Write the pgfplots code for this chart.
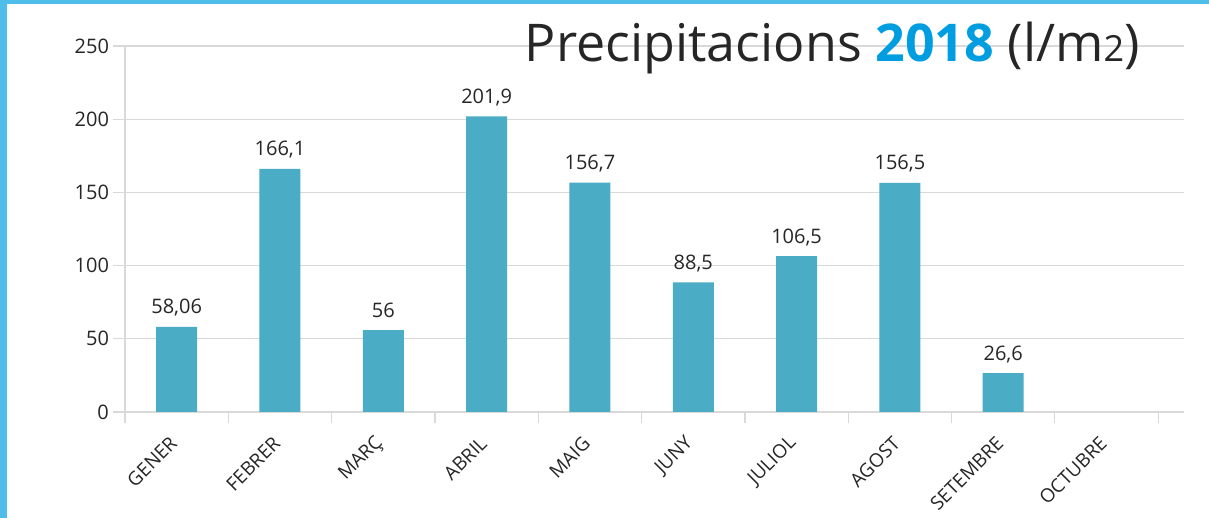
\documentclass[border=0pt]{standalone}
\usepackage{fontspec}
\setmainfont{Open Sans}
\usepackage{pgfplots}
\pgfplotsset{compat=1.18}
\definecolor{barc}{HTML}{4BACC6}
\definecolor{framec}{HTML}{4FBDE9}
\definecolor{yearc}{RGB}{0,158,224}
\definecolor{gridc}{HTML}{D9D9D9}
\definecolor{txtc}{HTML}{262626}
\begin{document}
\begin{tikzpicture}[x=1pt,y=1pt]
\fill[white] (0,0) rectangle (604.5,259);
\begin{axis}[
  at={(62.5pt,53pt)}, anchor=south west,
  scale only axis, width=529.5pt, height=183pt,
  xmin=-0.5, xmax=9.75, ymin=0, ymax=250,
  axis x line*=bottom, axis y line*=left,
  axis line style={draw=gridc, line width=0.6pt, -},
  ytick={0,50,100,150,200,250},
  ymajorgrids, grid style={draw=gridc, line width=0.6pt},
  tick align=outside,
  ytick style={draw=gridc, line width=0.6pt},
  major tick length=6pt,
  /pgf/number format/assume math mode=true,
  yticklabel style={font=\fontsize{10}{12}\selectfont, text=txtc, xshift=1.5pt},
  xtick={0,...,9},
  xticklabels={GENER,FEBRER,MARÇ,ABRIL,MAIG,JUNY,JULIOL,AGOST,SETEMBRE,OCTUBRE},
  major x tick style={draw=none},
  minor xtick={-0.5,0.5,...,9.5},
  minor x tick style={draw=gridc, line width=0.6pt},
  minor tick length=5.5pt,
  xticklabel style={font=\fontsize{9.5}{11}\selectfont, text=txtc, xshift=-1.5pt, yshift=-8pt, rotate=45, anchor=east, inner sep=0pt},
  clip=false,
]
\addplot[ybar, fill=barc, draw=none, bar width=20.5pt,
  point meta=explicit symbolic,
  nodes near coords,
  nodes near coords style={font=\fontsize{10}{12}\selectfont, text=txtc, anchor=base, inner sep=0pt, yshift=6.5pt},
] table[x=x, y=y, meta=lab] {
x y lab
0 58.06 58,06
1 166.1 166,1
2 56 56
3 201.9 201,9
4 156.7 156,7
5 88.5 88,5
6 106.5 106,5
7 156.5 156,5
8 26.6 26,6
};
\end{axis}
\fill[framec] (0,0) rectangle (3.5,259);
\fill[framec] (0,257) rectangle (604.5,259);
\node[anchor=base east, inner sep=0pt, text=txtc, font=\fontsize{26}{30}\selectfont] at (570,228)
  {Precipitacions {\color{yearc}\bfseries 2018} (l/m{\fontsize{18}{20}\selectfont 2})};
\pgfresetboundingbox
\useasboundingbox (0,0) rectangle (604.5,259);
\end{tikzpicture}
\end{document}
